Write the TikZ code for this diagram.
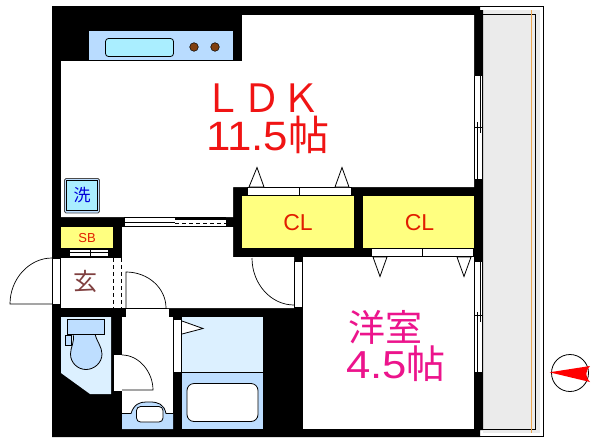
\documentclass[tikz,border=0pt]{standalone}
\usepackage{fontspec}
\setmainfont{Liberation Sans}
\newfontfamily\jpfont{Noto Sans CJK JP}
\definecolor{ldkred}{RGB}{240,20,20}
\definecolor{clred}{RGB}{225,30,0}
\definecolor{pinkt}{RGB}{236,20,140}
\definecolor{clyellow}{RGB}{255,255,128}
\definecolor{wetpale}{RGB}{220,240,255}
\definecolor{wetmid}{RGB}{190,222,255}
\definecolor{counter}{RGB}{185,220,255}
\definecolor{sinkc}{RGB}{170,238,255}
\definecolor{burner}{RGB}{128,64,16}
\definecolor{balcony}{RGB}{235,235,235}
\definecolor{railor}{RGB}{235,165,80}
\definecolor{genk}{RGB}{128,64,64}
\tikzset{
  x=1pt,y=-1pt,
  line width=0.8pt,
  wall/.style={fill=black,draw=none},
  room/.style={fill=white,draw=none},
  fit/.style={draw=black,line width=0.8pt},
  lbl/.style={inner sep=0pt,outer sep=0pt,anchor=center},
  doorpanel/.style={fill=white,draw=black,line width=0.8pt},
  swing/.style={draw=black,line width=0.7pt},
}
\begin{document}
\begin{tikzpicture}
\useasboundingbox (0,0) rectangle (600,445);
\fill[white] (0,0) rectangle (600,445);
% balcony
\draw[fit,fill=white] (478,6.5) rectangle (543.5,436.5);
\fill[balcony] (483,10) rectangle (540,433);
\draw[fit] (483,14.5) -- (535.5,14.5) -- (535.5,429.5) -- (483,429.5);
\draw[railor,line width=1pt] (531.3,10) -- (531.3,433);
% building mass
\fill[wall] (52,6) -- (480,6) -- (480,10) -- (483,10) -- (483,430) -- (480,430) -- (480,437) -- (52,437) -- cycle;
% rooms
\fill[room] (61,61) -- (242,61) -- (242,15) -- (474,15) -- (474,187) -- (233,187) -- (233,217) -- (61,217) -- cycle;
\fill[room] (122,227) -- (233,227) -- (233,257) -- (294,257) -- (294,308) -- (122,308) -- cycle;
\fill[room] (61,258) rectangle (122,308);
\fill[room] (303,257) rectangle (474,429);
% kitchen
\fill[counter] (89,31) rectangle (233,60);
\draw[fit,fill=sinkc,rounded corners=3pt] (105.5,38.5) rectangle (173.5,56.5);
\draw[fill=burner,draw=black,line width=0.5pt] (194,47) circle (4.3);
\draw[fill=burner,draw=black,line width=0.5pt] (215,47) circle (4.3);
% washer
\draw[fill=wetmid,draw=black!70,line width=0.8pt,rounded corners=1.5pt] (64.5,178.5) rectangle (99.5,213);
\draw[fill=sinkc,draw=black,line width=0.8pt] (66.5,180.5) rectangle (97,210);
\node[lbl,text=blue!85!black,font=\jpfont\fontsize{17}{17}\selectfont] (wash) at (82,195) {洗};
% closets
\fill[clyellow] (242,196) rectangle (354,248);
\fill[clyellow] (363,196) rectangle (474,248);
\node[lbl,text=clred,font=\fontsize{23}{23}\selectfont] (cl1) at (298,223) {CL};
\node[lbl,text=clred,font=\fontsize{23}{23}\selectfont] (cl2) at (419.5,223) {CL};
% closet doors top
\draw[fit,fill=white] (247,187.5) rectangle (351,195.5);
\draw[fit] (299,187.5) -- (299,195.5);
\draw[fit,fill=white] (249,187) -- (257,167.5) -- (264,187) -- cycle;
\draw[fit,fill=white] (335,187) -- (342,167.5) -- (349,187) -- cycle;
% closet doors bottom
\draw[fit,fill=white] (371,248.5) rectangle (473,256.5);
\draw[fit] (422,248) -- (422,256.5);
\draw[fit,fill=white] (373,257) -- (380,276.5) -- (387,257) -- cycle;
\draw[fit,fill=white] (457,257) -- (464,276.5) -- (471,257) -- cycle;
% SB
\fill[clyellow] (61,227) rectangle (113,248);
\node[lbl,text=clred,font=\fontsize{13}{13}\selectfont] (sb) at (87,238) {SB};
\draw[fit,fill=white] (69,249) rectangle (108,256.5);
\draw[fit] (90,249) -- (90,256.5);
\draw[fit] (69,252.5) -- (108,252.5);
% sliding door
\fill[white] (124,217) rectangle (226,227);
\draw[fit] (124,217.5) -- (226,217.5);
\draw[fit] (124,226.5) -- (226,226.5);
\draw[fit] (124,222.5) -- (175,222.5);
\fill[black] (175,217) rectangle (226,220);
\draw[fit,dash pattern=on 4pt off 3pt] (175,223.5) -- (226,223.5);
\draw[fit] (124.5,217.5) -- (124.5,226.5);
% entrance
\draw[doorpanel] (52.5,258.5) rectangle (60.5,304.5);
\draw[swing] (52,258) .. controls (29,258) and (10,279) .. (10,304) -- (52,304);
\node[lbl,text=genk,font=\jpfont\fontsize{24}{24}\selectfont] (gen) at (85,281) {玄};
\draw[fit,dash pattern=on 4pt off 3pt] (113.5,258) -- (113.5,308);
\draw[fit,dash pattern=on 4pt off 3pt] (121.5,258) -- (121.5,308);
% hall door (to washroom)
\draw[swing] (126,308) -- (126,272) .. controls (148,272) and (166,288) .. (166,308);
\draw[fit] (61,308) -- (167,308);
% door to bedroom
\draw[doorpanel] (294.5,261) rectangle (302.5,307);
\draw[swing] (252,258) .. controls (252,284) and (271,305) .. (294,305);
% washroom
\fill[room] (122,317) rectangle (173,429);
\fill[room] (126,308.5) rectangle (169,317);
\fill[wetmid] (122,413.5) -- (131,413.5) .. controls (134,404) and (140,402) .. (146,402) -- (150,402) .. controls (158,402) and (164,404) .. (166,413.5) -- (173,413.5) -- (173,429) -- (122,429) -- cycle;
\draw[fit] (122,413.5) -- (131,413.5) .. controls (134,404) and (140,402) .. (146,402) -- (150,402) .. controls (158,402) and (164,404) .. (166,413.5) -- (173,413.5);
\draw[fit,fill=white,rounded corners=4pt] (136.5,406.5) rectangle (163,422);
% WC
\fill[wetpale] (61,317) -- (111,317) -- (111,394) -- (90,394) -- (61,373) -- cycle;
\draw[fit,fill=wetmid] (73,334) .. controls (75,342) and (70.5,347) .. (70.5,354) .. controls (70.5,363) and (78,369.5) .. (86,369.5) .. controls (94,369.5) and (102,363) .. (102,354) .. controls (102,347) and (97,342) .. (95,334) -- cycle;
\draw[fit,fill=wetmid] (67.5,319.5) rectangle (104,334);
\draw[fit,fill=wetmid] (65.5,335) rectangle (71.5,345);
% WC door
\fill[white] (113,354) rectangle (122,391);
\draw[fit] (122,354) -- (113.5,354) -- (113.5,391) -- (122,391);
\draw[swing] (122,355) .. controls (139,355) and (153,372) .. (153,390) -- (122,390);
% bath
\fill[wetpale] (182,317) rectangle (263,372);
\fill[wetmid] (182,372) rectangle (263,429);
\draw[fit] (182,372.5) -- (263,372.5);
\draw[fit,fill=white,rounded corners=7pt] (187,383.5) rectangle (258,421.5);
\draw[doorpanel] (173.5,319.5) rectangle (181.5,372.5);
\draw[fit,fill=white] (182,321) -- (203,328.5) -- (182,334);
% LDK windows
\fill[white] (474,76) rectangle (483,179);
\fill[white] (474,262) rectangle (483,372);
\draw[fit] (474.5,76) -- (474.5,179) (477.5,122) -- (477.5,179) (480.8,76) -- (480.8,133) (482.8,76) -- (482.8,179) (475,127) -- (482,127);
\draw[fit] (474.5,262) -- (474.5,372) (477.5,312) -- (477.5,372) (480.8,262) -- (480.8,322) (482.8,262) -- (482.8,372) (475,315) -- (482,315);
% room labels
\node[lbl,text=ldkred,font=\jpfont\fontsize{39}{39}\selectfont] (ldk) at (262,98) {ＬＤＫ};
\node[lbl,text=ldkred,font=\fontsize{41}{41}\selectfont,anchor=west] (ldka) at (206,135) {\scalebox{1.07}[1]{11.5}{\jpfont 帖}};
\node[lbl,text=pinkt,font=\jpfont\fontsize{37}{37}\selectfont] (yo) at (385,327) {洋室};
\node[lbl,text=pinkt,font=\fontsize{39}{39}\selectfont,anchor=west] (yob) at (346,364) {\scalebox{1.12}[1]{4.5}{\jpfont 帖}};
% compass
\draw[fit] (570,373) circle (18.5);
\fill[red] (549.5,372.3) -- (590,366) .. controls (585,372) and (585,376) .. (590,382) -- cycle;
\end{tikzpicture}
\end{document}
